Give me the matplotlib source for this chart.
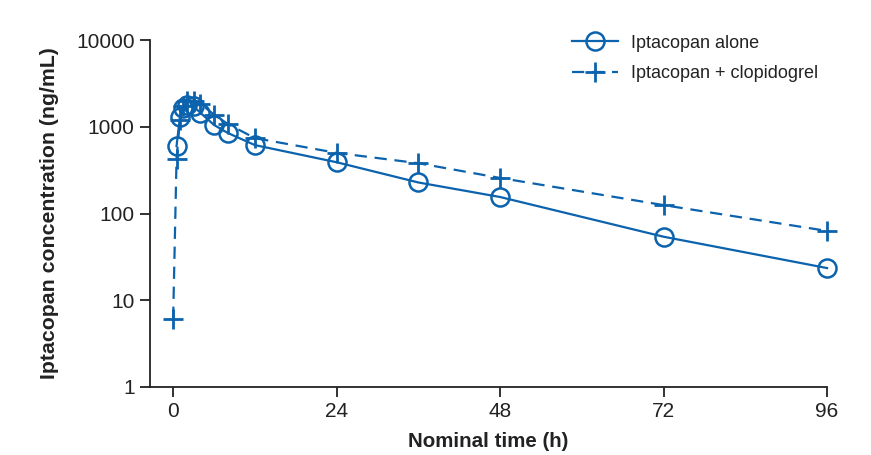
import matplotlib
matplotlib.use('Agg')

import matplotlib.pyplot as plt

plt.rcParams['font.family'] = ['Liberation Sans', 'DejaVu Sans']

# nominal sampling times (h) and mean concentrations (ng/mL)
time_alone = [0.5, 1, 1.5, 2, 3, 4, 6, 8, 12, 24, 36, 48, 72, 96]
conc_alone = [600, 1300, 1640, 1760, 1720, 1450, 1050, 850, 615, 390, 228, 155, 54, 23.5]

time_clop = [0, 0.5, 1, 1.5, 2, 3, 4, 6, 8, 12, 24, 36, 48, 72, 96]
conc_clop = [6.1, 430, 1200, 1750, 2000, 1980, 1850, 1380, 1080, 740, 500, 380, 257, 125, 63]

x_ticks = [0, 24, 48, 72, 96]
y_ticks = [1, 10, 100, 1000, 10000]

blue = '#0b62ad'

fig = plt.figure(figsize=(8.71, 4.55), dpi=100)
ax = fig.add_axes([0.1722, 0.1495, 0.7773, 0.7625])

ax.plot(time_alone, conc_alone, color=blue, linewidth=1.6, marker='o', markersize=13,
        markerfacecolor='none', markeredgewidth=1.8, clip_on=False, label='Iptacopan alone')
ax.plot(time_clop, conc_clop, color=blue, linewidth=1.6, linestyle=(0, (5.5, 3.5)), marker='+',
        markersize=14, markeredgewidth=2.0, clip_on=False, label='Iptacopan + clopidogrel')

ax.set_yscale('log')
ax.set_ylim(1, 10000)
ax.set_xlim(-3.4, 96)
ax.set_xticks(x_ticks)
ax.set_xticklabels([str(t) for t in x_ticks])
ax.set_yticks(y_ticks)
ax.set_yticklabels([str(v) for v in y_ticks])
ax.yaxis.set_minor_locator(matplotlib.ticker.NullLocator())

for side in ['top', 'right']:
    ax.spines[side].set_visible(False)
for side in ['left', 'bottom']:
    ax.spines[side].set_color('#222222')
    ax.spines[side].set_linewidth(1.3)
ax.tick_params(axis='both', length=7, width=1.3, color='#222222', labelsize=15,
               labelcolor='#222222', pad=4)

ax.set_xlabel('Nominal time (h)', fontsize=14.8, fontweight='bold', color='#222222', labelpad=8)
ax.set_ylabel('Iptacopan concentration (ng/mL)', fontsize=15.3, fontweight='bold',
              color='#222222', labelpad=12)

fig.legend(loc='upper left', bbox_to_anchor=(0.657, 0.924), frameon=False, fontsize=13,
           borderpad=0, borderaxespad=0, handlelength=2.55, handletextpad=0.7,
           labelspacing=0.77, labelcolor='#222222')

plt.savefig('out.png')
